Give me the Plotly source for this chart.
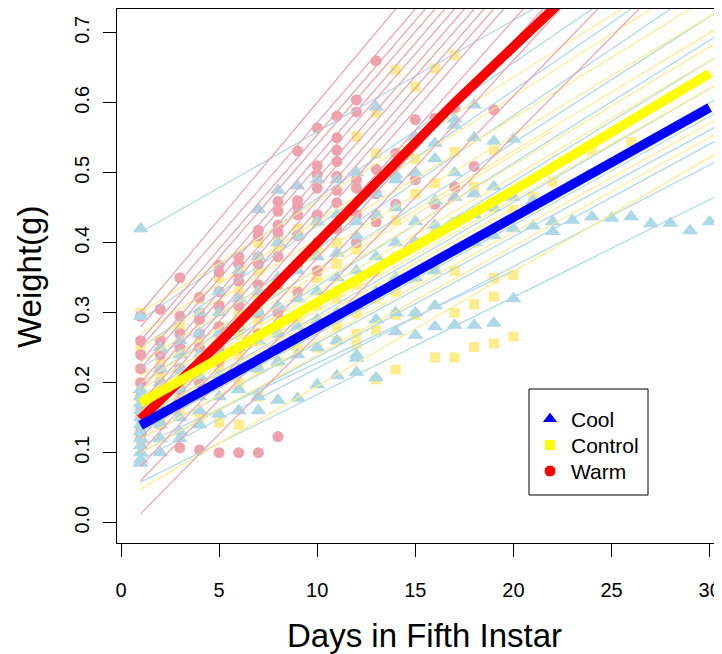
import plotly.graph_objects as go

# ---- data ----
cool_day = [1]*14 + [2]*8 + [3]*8 + [4]*7 + [5]*7 + [6]*7 + [7]*8 + [8]*7 + [9]*7 + [10]*7 \
    + [11]*7 + [12]*8 + [13]*7 + [14]*7 + [15]*7 + [16]*7 + [17]*6 + [18]*6 + [19]*5 + [20]*4 \
    + [21]*2 + [22]*2 + [23, 24, 25, 26, 27, 28, 29, 30]
cool_wt = [0.42, 0.295, 0.19, 0.18, 0.17, 0.16, 0.15, 0.14, 0.13, 0.12, 0.11, 0.10, 0.09, 0.085,
           0.25, 0.22, 0.20, 0.18, 0.16, 0.14, 0.12, 0.10,
           0.26, 0.24, 0.22, 0.19, 0.17, 0.15, 0.13, 0.12,
           0.30, 0.27, 0.24, 0.21, 0.18, 0.16, 0.14,
           0.33, 0.30, 0.27, 0.24, 0.21, 0.18, 0.155,
           0.36, 0.32, 0.28, 0.25, 0.22, 0.19, 0.16,
           0.447, 0.38, 0.33, 0.30, 0.26, 0.22, 0.18, 0.16,
           0.475, 0.40, 0.35, 0.31, 0.27, 0.23, 0.175,
           0.481, 0.41, 0.36, 0.32, 0.28, 0.24, 0.178,
           0.49, 0.43, 0.38, 0.33, 0.29, 0.25, 0.197,
           0.49, 0.44, 0.385, 0.35, 0.30, 0.26, 0.21,
           0.50, 0.43, 0.41, 0.36, 0.31, 0.24, 0.235, 0.215,
           0.594, 0.47, 0.44, 0.38, 0.33, 0.29, 0.207,
           0.497, 0.49, 0.45, 0.40, 0.35, 0.30, 0.273,
           0.551, 0.50, 0.43, 0.40, 0.35, 0.30, 0.268,
           0.542, 0.52, 0.46, 0.425, 0.36, 0.31, 0.28,
           0.577, 0.568, 0.50, 0.465, 0.39, 0.282,
           0.597, 0.55, 0.47, 0.44, 0.40, 0.282,
           0.545, 0.48, 0.45, 0.41, 0.285,
           0.548, 0.465, 0.42, 0.32,
           0.424, 0.46,
           0.43, 0.416,
           0.432, 0.437, 0.435, 0.437, 0.427, 0.428, 0.417, 0.43]

ctrl_day = [1]*9 + [2]*6 + [3]*6 + [4]*6 + [5]*6 + [6]*7 + [7]*7 + [8]*6 + [9]*5 + [10]*5 \
    + [11]*5 + [12]*7 + [13]*8 + [14]*6 + [15]*7 + [16]*5 + [17]*6 + [18]*4 + [19]*6 + [20]*3 \
    + [21, 22, 24, 26]
ctrl_wt = [0.30, 0.25, 0.22, 0.20, 0.18, 0.165, 0.15, 0.14, 0.12,
           0.26, 0.23, 0.21, 0.19, 0.17, 0.15,
           0.28, 0.25, 0.22, 0.20, 0.18, 0.16,
           0.32, 0.29, 0.26, 0.23, 0.20, 0.15,
           0.35, 0.31, 0.28, 0.25, 0.22, 0.143,
           0.37, 0.33, 0.30, 0.27, 0.24, 0.20, 0.14,
           0.40, 0.36, 0.32, 0.29, 0.26, 0.22, 0.18,
           0.41, 0.39, 0.34, 0.30, 0.27, 0.23,
           0.42, 0.37, 0.33, 0.29, 0.25,
           0.43, 0.39, 0.35, 0.31, 0.25,
           0.40, 0.37, 0.32, 0.28, 0.26,
           0.552, 0.48, 0.39, 0.34, 0.30, 0.27, 0.255,
           0.586, 0.527, 0.44, 0.43, 0.36, 0.32, 0.275, 0.205,
           0.647, 0.432, 0.38, 0.33, 0.297, 0.219,
           0.623, 0.52, 0.495, 0.47, 0.40, 0.35, 0.297,
           0.649, 0.485, 0.42, 0.37, 0.236,
           0.668, 0.53, 0.43, 0.36, 0.30, 0.236,
           0.48, 0.40, 0.312, 0.251,
           0.532, 0.45, 0.35, 0.349, 0.323, 0.256,
           0.447, 0.354, 0.266,
           0.466, 0.487, 0.532, 0.544]

warm_day = [1]*10 + [2]*8 + [3]*7 + [4]*8 + [5]*8 + [6]*8 + [7]*8 + [8]*8 + [9]*7 + [10]*7 \
    + [11]*8 + [12]*6 + [13]*4 + [14]*2 + [15]*2 + [16]*2 + [17]*2 + [18, 19]
warm_wt = [0.295, 0.26, 0.24, 0.22, 0.20, 0.18, 0.16, 0.15, 0.13, 0.12,
           0.305, 0.26, 0.24, 0.22, 0.20, 0.18, 0.16, 0.14,
           0.35, 0.295, 0.27, 0.25, 0.22, 0.19, 0.107,
           0.322, 0.30, 0.29, 0.27, 0.25, 0.22, 0.20, 0.104,
           0.368, 0.358, 0.33, 0.31, 0.28, 0.25, 0.23, 0.10,
           0.38, 0.37, 0.355, 0.345, 0.31, 0.28, 0.25, 0.10,
           0.418, 0.41, 0.38, 0.37, 0.34, 0.30, 0.27, 0.10,
           0.459, 0.445, 0.425, 0.415, 0.38, 0.34, 0.30, 0.123,
           0.531, 0.46, 0.452, 0.44, 0.41, 0.37, 0.33,
           0.564, 0.51, 0.497, 0.478, 0.44, 0.40, 0.36,
           0.581, 0.55, 0.532, 0.516, 0.495, 0.475, 0.457, 0.42,
           0.604, 0.587, 0.49, 0.478, 0.44, 0.40,
           0.66, 0.505, 0.47, 0.43,
           0.528, 0.455,
           0.576, 0.49,
           0.578, 0.455,
           0.592, 0.48,
           0.509, 0.59]

# individual growth lines: start (day, weight) -> end (day, weight)
cool_x0 = [1]*16
cool_y0 = [0.415, 0.29, 0.25, 0.22, 0.20, 0.18, 0.16, 0.15, 0.14, 0.13, 0.12, 0.10, 0.09, 0.058, 0.17, 0.11]
cool_x1 = [21, 24, 26, 28, 30.6, 30.6, 30.6, 30.6, 30.6, 30.6, 30.6, 30.6, 30.6, 30.6, 20, 20]
cool_y1 = [0.734, 0.734, 0.734, 0.734, 0.734, 0.70, 0.67, 0.63, 0.61, 0.59, 0.57, 0.55, 0.52, 0.47, 0.48, 0.36]

ctrl_x0 = [1]*15
ctrl_y0 = [0.30, 0.27, 0.25, 0.23, 0.21, 0.19, 0.18, 0.17, 0.16, 0.14, 0.12, 0.10, 0.048, 0.15, 0.20]
ctrl_x1 = [25.5, 27, 29, 30.6, 30.6, 30.6, 30.6, 30.6, 30.6, 30.6, 30.6, 30.6, 30.6, 20, 22]
ctrl_y1 = [0.734, 0.734, 0.734, 0.734, 0.71, 0.69, 0.67, 0.65, 0.63, 0.60, 0.58, 0.56, 0.532, 0.45, 0.56]

warm_x0 = [1]*16
warm_y0 = [0.30, 0.28, 0.26, 0.25, 0.23, 0.22, 0.20, 0.19, 0.17, 0.16, 0.14, 0.12, 0.10, 0.08, 0.06, 0.013]
warm_x1 = [14, 15, 15.5, 16, 16.5, 17, 17.5, 18, 18.5, 19, 19.5, 20.5, 21.5, 22.4, 24.3, 26.4]
warm_y1 = [0.734]*16

# group mean curves
mean_cool_day = [1, 5, 10, 15, 20, 25, 30]
mean_cool_wt = [0.139, 0.200, 0.280, 0.358, 0.436, 0.514, 0.593]
mean_ctrl_day = [1, 5, 10, 15, 20, 25, 30]
mean_ctrl_wt = [0.171, 0.235, 0.312, 0.392, 0.475, 0.558, 0.642]
mean_warm_day = [1, 5, 10, 15, 17, 20, 22, 23]
mean_warm_wt = [0.148, 0.257, 0.400, 0.545, 0.600, 0.680, 0.735, 0.760]

legend_names = ["Cool", "Control", "Warm"]

LIGHT_COOL = "#ADD8E6"
LIGHT_CTRL = "#FFEC8B"
LIGHT_WARM = "#EEA2AD"
FONT = "Liberation Sans, Arial, sans-serif"


def segments(x0, y0, x1, y1):
    xs, ys = [], []
    for a, b, c, d in zip(x0, y0, x1, y1):
        xs += [a, c, None]
        ys += [b, d, None]
    return xs, ys


fig = go.Figure()

# points
fig.add_trace(go.Scatter(x=ctrl_day, y=ctrl_wt, mode="markers",
                         marker=dict(symbol="square", size=10, color=LIGHT_CTRL)))
fig.add_trace(go.Scatter(x=warm_day, y=warm_wt, mode="markers",
                         marker=dict(symbol="circle", size=11, color=LIGHT_WARM)))
fig.add_trace(go.Scatter(x=cool_day, y=cool_wt, mode="markers",
                         marker=dict(symbol="triangle-up", size=14, color=LIGHT_COOL)))

# individual lines
for x0, y0, x1, y1, col in [(cool_x0, cool_y0, cool_x1, cool_y1, LIGHT_COOL),
                            (ctrl_x0, ctrl_y0, ctrl_x1, ctrl_y1, LIGHT_CTRL),
                            (warm_x0, warm_y0, warm_x1, warm_y1, LIGHT_WARM)]:
    xs, ys = segments(x0, y0, x1, y1)
    fig.add_trace(go.Scatter(x=xs, y=ys, mode="lines", line=dict(color=col, width=1.2)))

# mean lines
fig.add_trace(go.Scatter(x=mean_warm_day, y=mean_warm_wt, mode="lines",
                         line=dict(color="#FF0000", width=9.5)))
fig.add_trace(go.Scatter(x=mean_ctrl_day, y=mean_ctrl_wt, mode="lines",
                         line=dict(color="#FFFF00", width=9.5)))
fig.add_trace(go.Scatter(x=mean_cool_day, y=mean_cool_wt, mode="lines",
                         line=dict(color="#0000FF", width=9.5)))

# page has an 8px body margin, so the figure is offset by 8px
OFF = 8
L, T = 117 - OFF, 9 - OFF
W, H = 714, 646
B = H - (543 - OFF)
pw, ph = W - L, H - T - B


def px(x):
    return (x - OFF - L) / pw


def py(y):
    return (H - B - (y - OFF)) / ph


# legend drawn by hand (box, symbols on an overlay axis, labels)
fig.add_shape(type="rect", xref="paper", yref="paper",
              x0=px(529), x1=px(648), y0=py(495), y1=py(389),
              line=dict(color="black", width=1), fillcolor="white", layer="below")
leg_y = [py(419), py(445), py(471)]
fig.add_trace(go.Scatter(x=[px(550)]*3, y=leg_y, xaxis="x2", yaxis="y2", mode="markers",
                         marker=dict(symbol=["triangle-up", "square", "circle"], size=[14, 11, 12],
                                     opacity=1, color=["#0000FF", "#FFFF00", "#FF0000"])))
for name, yy in zip(legend_names, leg_y):
    fig.add_annotation(text=name, xref="paper", yref="paper", x=px(569), y=yy,
                       xanchor="left", yanchor="middle", showarrow=False,
                       font=dict(family=FONT, size=21, color="black"))

fig.add_annotation(text="Days in Fifth Instar", xref="paper", yref="paper",
                   x=px(425), y=py(635), xanchor="center", yanchor="middle",
                   showarrow=False, font=dict(family=FONT, size=33, color="black"))
fig.add_annotation(text="Weight(g)", xref="paper", yref="paper", textangle=-90,
                   x=px(29), y=py(277), xanchor="center", yanchor="middle",
                   showarrow=False, font=dict(family=FONT, size=33, color="black"))

fig.update_layout(
    width=W, height=H,
    margin=dict(l=L, r=0, t=T, b=B),
    paper_bgcolor="white", plot_bgcolor="white",
    font=dict(family=FONT, size=20, color="black"),
    hovermode=False, showlegend=False,
    xaxis=dict(range=[-0.204, 30.63], tickvals=[0, 5, 10, 15, 20, 25, 30],
               ticks="outside", ticklen=13, tickwidth=1, tickcolor="black",
               showline=True, linecolor="black", linewidth=1, mirror=True,
               showgrid=False, zeroline=False, ticklabelstandoff=16),
    yaxis=dict(range=[-0.029, 0.734], tickvals=[0, 0.1, 0.2, 0.3, 0.4, 0.5, 0.6, 0.7],
               ticktext=["0.0", "0.1", "0.2", "0.3", "0.4", "0.5", "0.6", "0.7"],
               tickangle=-90, ticks="outside", ticklen=13, tickwidth=1, tickcolor="black",
               showline=True, linecolor="black", linewidth=1,
               showgrid=False, zeroline=False, ticklabelstandoff=6),
    xaxis2=dict(overlaying="x", range=[0, 1], visible=False),
    yaxis2=dict(overlaying="y", range=[0, 1], visible=False),
)

fig.write_html("out.html")
